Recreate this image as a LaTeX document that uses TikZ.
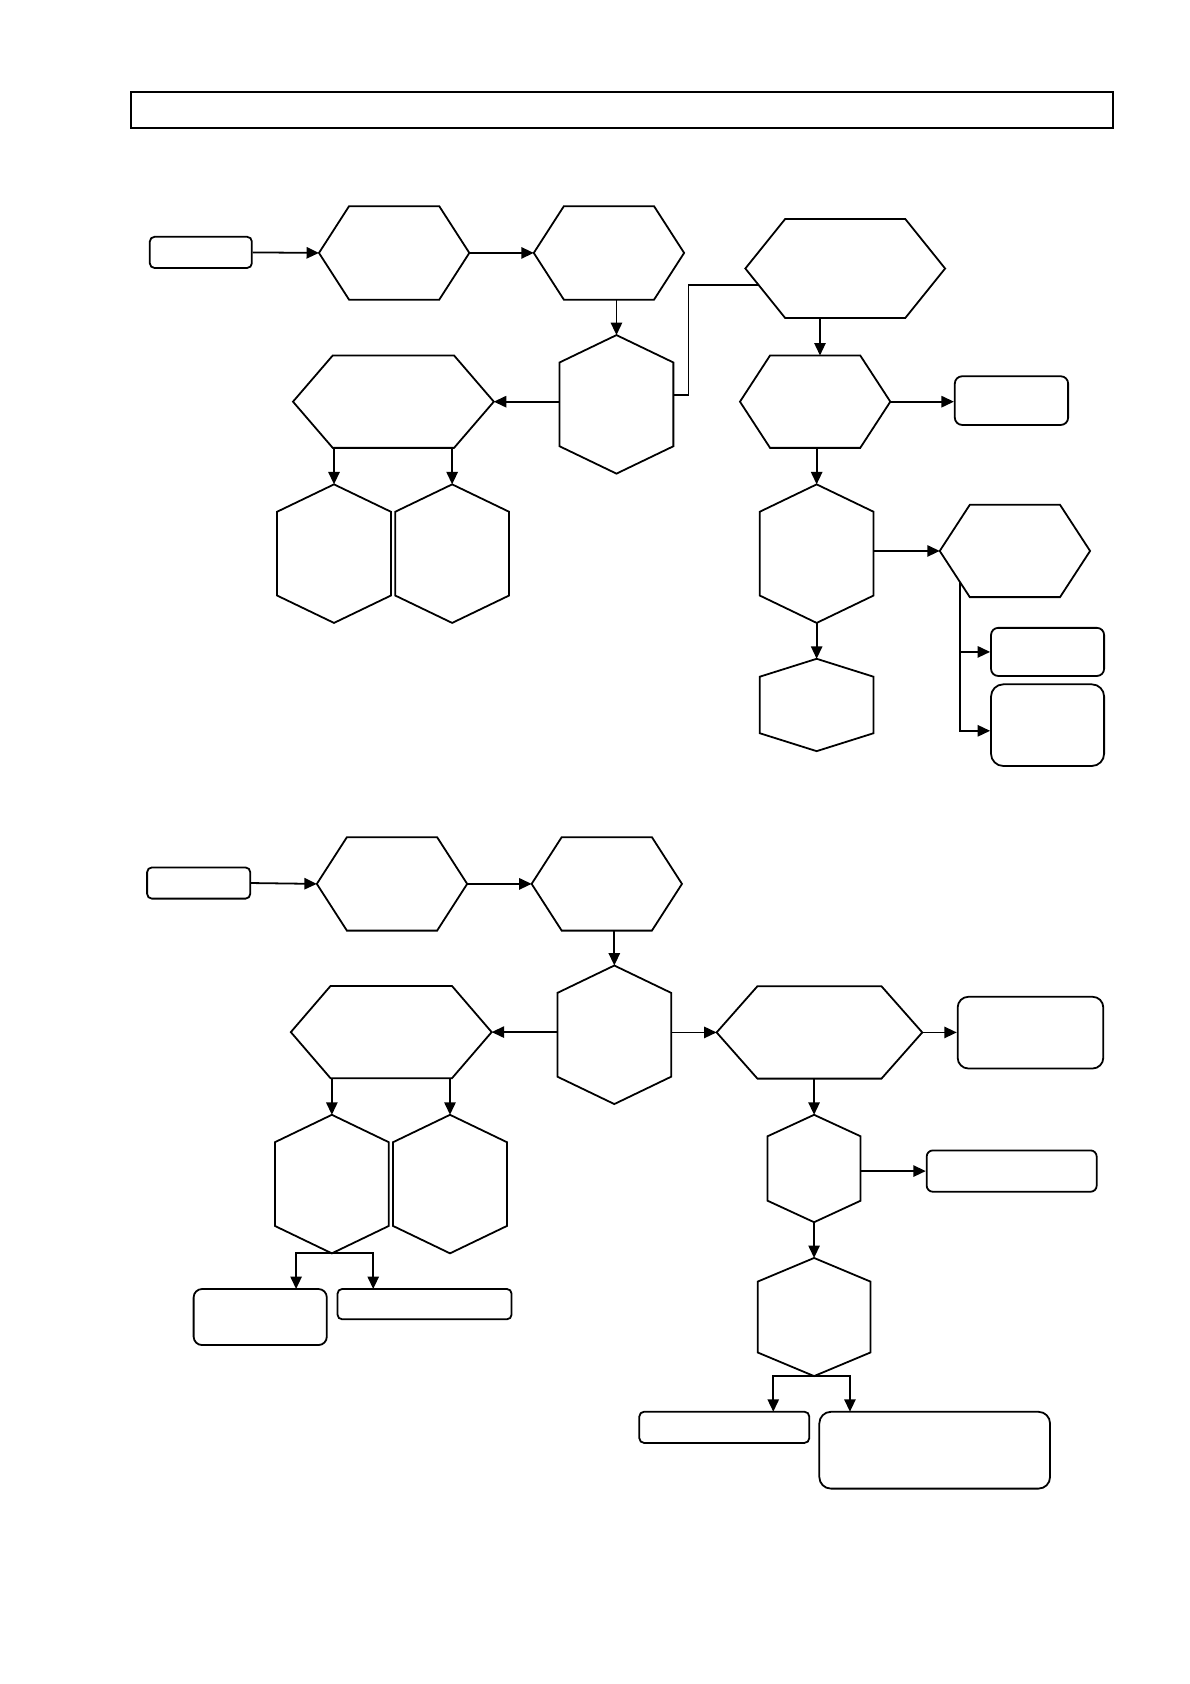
\documentclass[tikz,border=0pt]{standalone}
\usepackage{tikz}
\usetikzlibrary{arrows.meta}

\newcommand{\unitpx}{0.019cm}
% hexagon with points left and right
\newcommand{\hexh}[5]{%
  \node[hexbox={#3}{#4}] (#1) at (#2) {};
  \draw (#1.west) -- ([xshift=#5*\unitpx]#1.north west) -- ([xshift=-#5*\unitpx]#1.north east) -- (#1.east)
    -- ([xshift=-#5*\unitpx]#1.south east) -- ([xshift=#5*\unitpx]#1.south west) -- cycle;}
% hexagon with points up and down
\newcommand{\hexv}[5]{%
  \node[hexbox={#3}{#4}] (#1) at (#2) {};
  \draw (#1.north) -- ([yshift=-#5*\unitpx]#1.north east) -- ([yshift=#5*\unitpx]#1.south east) -- (#1.south)
    -- ([yshift=#5*\unitpx]#1.south west) -- ([yshift=-#5*\unitpx]#1.north west) -- cycle;}

\begin{document}
\begin{tikzpicture}[x=0.019cm, y=-0.019cm, line width=0.9pt,
  arr/.style={-{Triangle[length=0.22cm,width=0.2cm]}},
  hexbox/.style 2 args={inner sep=0pt, outer sep=0pt, minimum width=#1*\unitpx, minimum height=#2*\unitpx},
  rbox/.style 2 args={draw, inner sep=0pt, rounded corners=0.15*#2*\unitpx, minimum width=#1*\unitpx, minimum height=#2*\unitpx}]
\useasboundingbox (0,0) rectangle (1108,1568);

\node[draw, inner sep=0pt, minimum width=914*\unitpx, minimum height=33*\unitpx] (title) at (579,102.5) {};

% upper chart
\node[rbox={95}{29}] (s1) at (187,235) {};
\hexh{h1}{367,235.5}{140}{87}{28}
\hexh{h2}{567,235.5}{140}{87}{28}
\hexv{h3}{574,376.5}{106}{129}{25.5}
\hexh{h4}{366.3,374}{187}{86}{37}
\hexh{h5}{787,250}{186}{92}{37}
\hexh{h6}{759,374}{140}{86}{28}
\hexv{h7}{760.4,515.5}{106}{129}{25.5}
\hexh{h8}{945,513}{140}{86}{28}
\hexv{h9}{760.4,656.4}{106}{86}{16.7}
\hexv{h10}{311,515.5}{106}{129}{25.5}
\hexv{h11}{421,515.5}{106}{129}{25.5}
\node[rbox={105.5}{45.3}] (b1) at (941.8,373) {};
\node[rbox={105.3}{44.8}] (b2) at (975.4,607) {};
\node[rbox={105.3}{76}] (b3) at (975.4,675.2) {};
\coordinate (k1) at (641,265);
\coordinate (k2) at (706,265);
\coordinate (j1) at (763.5,296);
\coordinate (h8in) at (894,542);

\draw[arr] (s1.east) -- (h1.west);
\draw[arr] (h1.east) -- (h2.west);
\draw[arr] (h3.north |- h2.south) -- (h3.north);
\draw[arr] (h3.west |- h4.east) -- (h4.east);
\draw ([yshift=0.17cm]h3.east) -| (k1) -- (k2);
\draw[arr] (j1) -- (j1 |- h6.north);
\draw[arr] (h6.east) -- (h6.east -| b1.west);
\draw[arr] (h7.north |- h6.south) -- (h7.north);
\draw[arr] (h7.east |- h8.west) -- (h8.west);
\draw[arr] (h8in) |- ([yshift=-0.1cm]b3.west);
\draw[arr] (h8in |- b2.west) -- (b2.west);
\draw[arr] (h9.north |- h7.south) -- (h9.north);
\draw[arr] (h10.north |- h4.south) -- (h10.north);
\draw[arr] (h11.north |- h4.south) -- (h11.north);

% lower chart
\node[rbox={96}{29}] (s2) at (185,822.2) {};
\hexh{g1}{365,823}{140}{87}{28}
\hexh{g2}{565,823}{140}{87}{28}
\hexv{g3}{572,963.5}{106}{129}{25.5}
\hexh{g4}{364.3,961}{187}{86}{37}
\hexh{g5}{763,961.3}{191.5}{86}{38}
\hexv{g6}{758,1088}{86.6}{100}{20}
\hexv{g7}{758,1226.3}{105}{110}{22}
\hexv{g10}{309,1102.5}{106}{129}{25.5}
\hexv{g11}{419,1102.5}{106}{129}{25.5}
\node[rbox={135.6}{66.8}] (c1) at (959.5,961.5) {};
\node[rbox={158.3}{38.5}] (c2) at (942,1090.4) {};
\node[rbox={158.2}{29}] (c3) at (674.4,1329) {};
\node[rbox={214.8}{71.5}] (c4) at (870.3,1350.3) {};
\node[rbox={124}{52.2}] (d1) at (242.3,1226.3) {};
\node[rbox={162}{28.2}] (d2) at (395.3,1214.3) {};
\coordinate (t1) at (275.7,1200.2);
\coordinate (t2) at (347.5,1200.2);
\coordinate (t3) at (720,1314.5);
\coordinate (t4) at (791.4,1314.5);

\draw[arr] (s2.east) -- (g1.west);
\draw[arr] (g1.east) -- (g2.west);
\draw[arr] (g3.north |- g2.south) -- (g3.north);
\draw[arr] (g3.west |- g4.east) -- (g4.east);
\draw[arr] (g3.east |- g5.west) -- (g5.west);
\draw[arr] (g5.east) -- (g5.east -| c1.west);
\draw[arr] (g6.north |- g5.south) -- (g6.north);
\draw[arr] (g6.east |- c2.west) -- (c2.west);
\draw[arr] (g7.north |- g6.south) -- (g7.north);
\draw[arr] (g7.south) -| (t3);
\draw[arr] (g7.south) -| (t4);
\draw[arr] (g10.north |- g4.south) -- (g10.north);
\draw[arr] (g11.north |- g4.south) -- (g11.north);
\draw[arr] (g10.south) -| (t1);
\draw[arr] (g10.south) -| (t2);
\end{tikzpicture}
\end{document}
